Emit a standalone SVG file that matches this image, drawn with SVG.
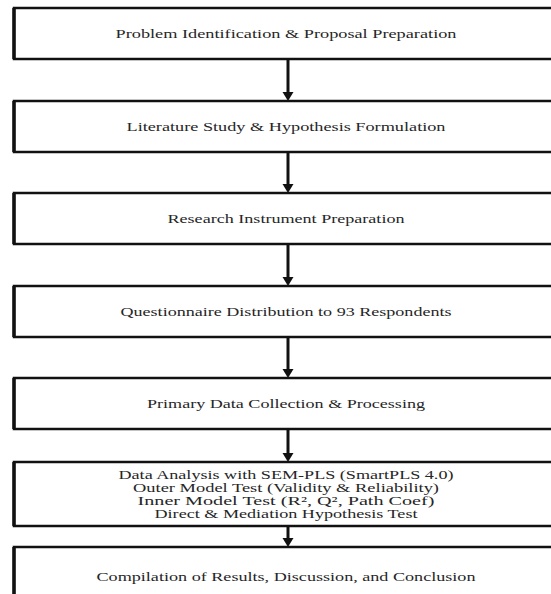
<svg xmlns="http://www.w3.org/2000/svg" width="551" height="594" viewBox="0 0 551 594">
  <defs>
    <style>
      .box { fill: #ffffff; stroke: #111111; stroke-width: 2.5; }
      .edge { fill: none; stroke: #111111; stroke-width: 3.5; }
      .lbl { font-family: "Liberation Serif", "Times New Roman", serif; font-size: 13px; fill: #262626; text-anchor: middle; }
      .sm { font-size: 11.5px; }
      .shaft { stroke: #111111; stroke-width: 3; fill: none; }
      .head { fill: #111111; }
    </style>
  </defs>
  <rect x="0" y="0" width="551" height="594" fill="#ffffff"/>

  <g id="connectors">
    <line class="shaft" x1="288" y1="59" x2="288" y2="93"/>
    <polygon class="head" points="282.5,92 293.5,92 288,101"/>
    <line class="shaft" x1="288" y1="152" x2="288" y2="185"/>
    <polygon class="head" points="282.5,184 293.5,184 288,193"/>
    <line class="shaft" x1="288" y1="244" x2="288" y2="278"/>
    <polygon class="head" points="282.5,277 293.5,277 288,286"/>
    <line class="shaft" x1="288" y1="337" x2="288" y2="370"/>
    <polygon class="head" points="282.5,369 293.5,369 288,378"/>
    <line class="shaft" x1="288" y1="429" x2="288" y2="454"/>
    <polygon class="head" points="282.5,453 293.5,453 288,462"/>
    <line class="shaft" x1="288" y1="526" x2="288" y2="539"/>
    <polygon class="head" points="282.5,538 293.5,538 288,547"/>
  </g>

  <g id="n1">
    <rect class="box" x="14" y="8" width="560" height="51"/>
    <line class="edge" x1="14" y1="8" x2="14" y2="59"/>
    <text class="lbl" x="286" y="37.5" textLength="341" lengthAdjust="spacingAndGlyphs">Problem Identification &amp; Proposal Preparation</text>
  </g>
  <g id="n2">
    <rect class="box" x="14" y="101" width="560" height="51"/>
    <line class="edge" x1="14" y1="101" x2="14" y2="152"/>
    <text class="lbl" x="286" y="130.5" textLength="319" lengthAdjust="spacingAndGlyphs">Literature Study &amp; Hypothesis Formulation</text>
  </g>
  <g id="n3">
    <rect class="box" x="14" y="193" width="560" height="51"/>
    <line class="edge" x1="14" y1="193" x2="14" y2="244"/>
    <text class="lbl" x="286" y="222.5" textLength="237" lengthAdjust="spacingAndGlyphs">Research Instrument Preparation</text>
  </g>
  <g id="n4">
    <rect class="box" x="14" y="286" width="560" height="51"/>
    <line class="edge" x1="14" y1="286" x2="14" y2="337"/>
    <text class="lbl" x="286" y="315.5" textLength="331" lengthAdjust="spacingAndGlyphs">Questionnaire Distribution to 93 Respondents</text>
  </g>
  <g id="n5">
    <rect class="box" x="14" y="378" width="560" height="51"/>
    <line class="edge" x1="14" y1="378" x2="14" y2="429"/>
    <text class="lbl" x="286" y="407.5" textLength="278" lengthAdjust="spacingAndGlyphs">Primary Data Collection &amp; Processing</text>
  </g>
  <g id="n6">
    <rect class="box" x="14" y="462" width="560" height="64"/>
    <line class="edge" x1="14" y1="462" x2="14" y2="526"/>
    <text class="lbl sm" x="286" y="478.5" textLength="335" lengthAdjust="spacingAndGlyphs">Data Analysis with SEM-PLS (SmartPLS 4.0)</text>
    <text class="lbl sm" x="286" y="491.5" textLength="306" lengthAdjust="spacingAndGlyphs">Outer Model Test (Validity &amp; Reliability)</text>
    <text class="lbl sm" x="286" y="504.5" textLength="297" lengthAdjust="spacingAndGlyphs">Inner Model Test (R², Q², Path Coef)</text>
    <text class="lbl sm" x="286" y="517.5" textLength="263" lengthAdjust="spacingAndGlyphs">Direct &amp; Mediation Hypothesis Test</text>
  </g>
  <g id="n7">
    <rect class="box" x="14" y="547" width="560" height="60"/>
    <line class="edge" x1="14" y1="547" x2="14" y2="607"/>
    <text class="lbl" x="286" y="581" textLength="379" lengthAdjust="spacingAndGlyphs">Compilation of Results, Discussion, and Conclusion</text>
  </g>
</svg>
